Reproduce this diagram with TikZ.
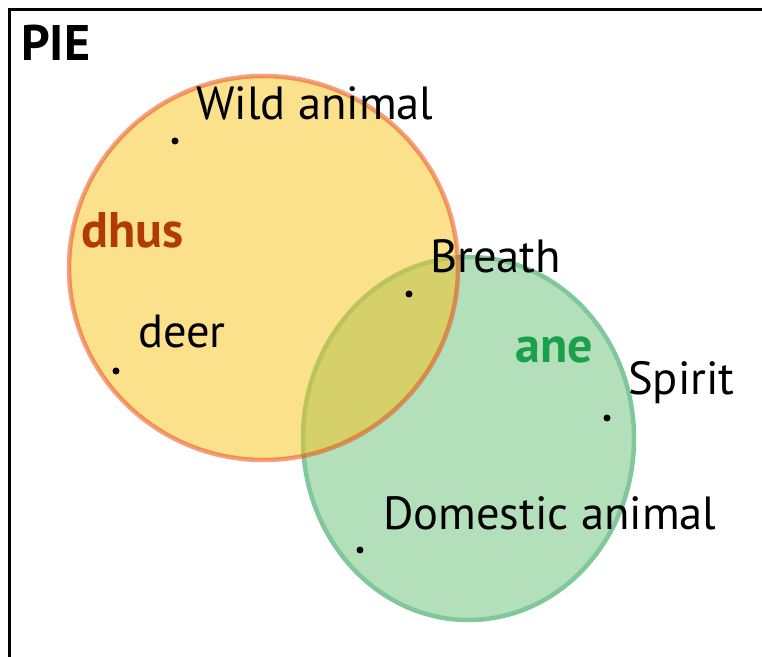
\documentclass[tikz,border=0pt]{standalone}
\usepackage{fontspec}
\setmainfont{PT Sans}
\definecolor{yfill}{HTML}{F7C319}
\definecolor{ystroke}{HTML}{E8420F}
\definecolor{gfill}{HTML}{B3DFBA}
\definecolor{gstroke}{HTML}{80C79A}
\definecolor{dhuscol}{HTML}{B13A06}
\definecolor{anecol}{HTML}{1AA04A}
\tikzset{
  lbl/.style={anchor=base west, inner sep=0pt, font=\fontsize{46.5}{56}\selectfont},
  head/.style={anchor=base west, inner sep=0pt, font=\fontsize{50}{60}\selectfont\bfseries},
  dot/.style={circle, fill=black, inner sep=0pt, minimum size=7pt},
}
\begin{document}
\begin{tikzpicture}[x=1pt,y=1pt]
\useasboundingbox (0,0) rectangle (762,656);
% frame
\draw[line width=3pt] (9,-5) -- (9,646) -- (770,646);
% green ellipse
\draw[fill=gfill, draw=gstroke, line width=4.5pt] (468.5,217.5) ellipse [x radius=165.5, y radius=181.5];
% yellow circle (semi-transparent, on top)
\draw[fill=yfill, draw=ystroke, line width=4.5pt, opacity=0.5] (263.5,388) ellipse [x radius=194.5, y radius=192];
% headings
\node[head] (pie) at (21,595) {PIE};
\node[head, text=dhuscol] (dhus) at (81,408) {dhus};
\node[head, text=anecol] (ane) at (515,293) {ane};
% labels and dots
\node[lbl] (wild) at (196,536) {Wild animal};
\node[dot] (dwild) at (175,515) {};
\node[lbl] (deer) at (138,308) {deer};
\node[dot] (ddeer) at (116,285) {};
\node[lbl] (breath) at (430,383) {Breath};
\node[dot] (dbreath) at (409,362) {};
\node[lbl] (spirit) at (628,261) {Spirit};
\node[dot] (dspirit) at (607,238) {};
\node[lbl] (dom) at (383,127) {Domestic animal};
\node[dot] (ddom) at (360,106) {};
\end{tikzpicture}
\end{document}
